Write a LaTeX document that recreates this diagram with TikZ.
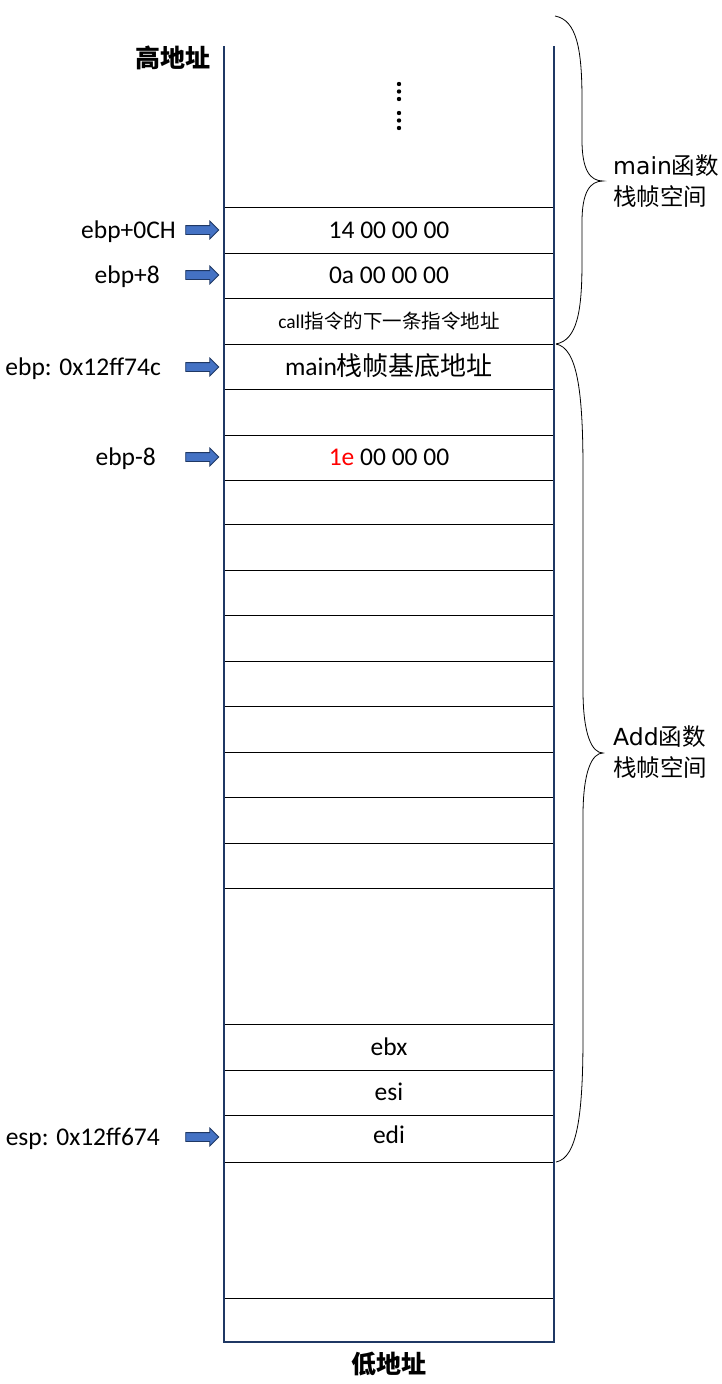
\documentclass[tikz,border=0pt]{standalone}
\usepackage{fontspec}
\setmainfont{Carlito}
\newfontfamily\cjk{Noto Sans CJK SC}
\newfontfamily\dv{DejaVu Sans}
\usetikzlibrary{shapes.arrows}
\definecolor{navy}{HTML}{1F3864}
\definecolor{arrblue}{HTML}{4472C4}
\begin{document}
\begin{tikzpicture}[x=1pt,y=-1pt,
  cell/.style={font=\fontsize{25.5}{29}\selectfont, inner sep=0pt, anchor=base},
  lbl/.style={font=\fontsize{25.5}{29}\selectfont, inner sep=0pt, anchor=base east},
  ptr/.style={single arrow, fill=arrblue, draw=navy, line width=0.8pt,
    minimum height=33pt, single arrow head extend=4.5pt, inner sep=4pt, anchor=center},
  sep/.style={line width=0.9pt, black},
  brace/.style={line width=0.8pt, black},
  addr/.style={font=\cjk\bfseries\fontsize{25}{29}\selectfont, inner sep=0pt},
  side/.style={font=\fontsize{23.5}{31}\selectfont, align=left, anchor=west, inner sep=0pt}]
\useasboundingbox (0,0) rectangle (721,1384);
% separators
\foreach \yy in {207,253,298,344,389,435,480,524,570,615,661,706,752,797,843,888,1024,1070,1115,1162,1298}
  \draw[sep] (224,\yy) -- (554,\yy);
% column
\draw[navy, line width=2pt] (224,46) -- (224,1342) -- (554,1342) -- (554,46);
% dots
\foreach \yy in {84,91.5,99,113,120.5,128}
  \fill (399,\yy) circle (2.2);
% addresses
\node[addr, anchor=base east] (hi) at (211,67) {高地址};
\node[addr, anchor=base] (lo) at (389,1373) {低地址};
% cell texts
\node[cell] (c1) at (389,238) {14 00 00 00};
\node[cell] (c2) at (389,283) {0a 00 00 00};
\node[cell, font=\fontsize{19.5}{22}\selectfont] (c3) at (389,328) {call{\cjk 指令的下一条指令地址}};
\node[cell] (c4) at (389,375) {main{\cjk\fontsize{26}{29}\selectfont 栈帧基底地址}};
\node[cell] (c6) at (389,465) {{\color{red}1e} 00 00 00};
\node[cell] (cbx) at (389,1055) {ebx};
\node[cell] (csi) at (389,1100) {esi};
\node[cell] (cdi) at (389,1143) {edi};
% left labels
\node[lbl] (l1) at (176,238) {ebp+0CH};
\node[lbl] (l2) at (160,283) {ebp+8};
\node[lbl] (l4) at (161,375) {ebp: 0x12ff74c};
\node[lbl] (l6) at (156,465) {ebp-8};
\node[lbl] (lsp) at (160,1145) {esp: 0x12ff674};
% pointer arrows
\node[ptr] (a1) at (200,230) {};
\node[ptr] (a2) at (200,275) {};
\node[ptr] (a4) at (200,367) {};
\node[ptr] (a6) at (200,457) {};
\node[ptr] (asp) at (200,1137) {};
% braces
\coordinate (m1) at (555,16);
\coordinate (mt) at (603,181);
\coordinate (m2) at (556,344);
\coordinate (at) at (603,753);
\coordinate (a3) at (556,1162);
\draw[brace] (m1) .. controls (577,20) and (582,50) .. (582,100)
  -- (582,140) .. controls (582,170) and (590,181) .. (mt)
  .. controls (590,181) and (582,192) .. (582,222)
  -- (582,262) .. controls (582,312) and (577,340) .. (m2);
\draw[brace] (m2) .. controls (577,348) and (583,390) .. (583,470)
  -- (583,690) .. controls (583,735) and (592,753) .. (at)
  .. controls (592,753) and (583,771) .. (583,816)
  -- (583,1036) .. controls (583,1116) and (577,1158) .. (a3);
% side labels
\node[side] (smain) at (613,181) {{\dv main}{\cjk 函数}\\{\cjk 栈帧空间}};
\node[side] (sadd) at (613,752) {{\dv Add}{\cjk 函数}\\{\cjk 栈帧空间}};
\end{tikzpicture}
\end{document}
